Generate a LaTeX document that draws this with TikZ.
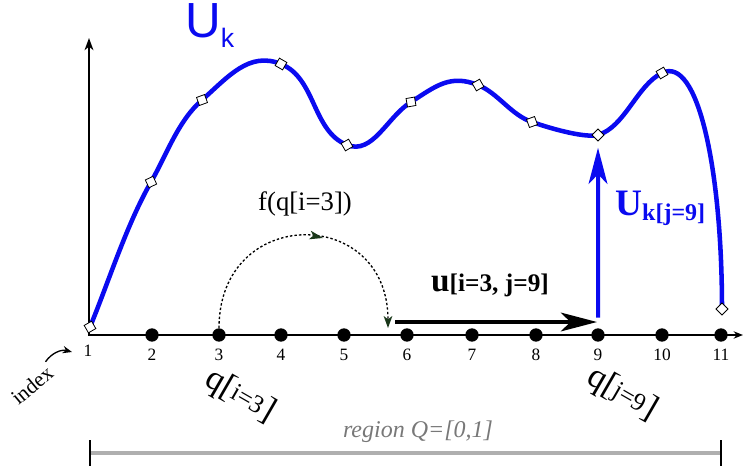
\documentclass[tikz,border=0pt]{standalone}
\usepackage{fontspec}
\setmainfont{Liberation Serif}
\newfontfamily\uksans{Liberation Sans}
\usepackage{xcolor}
\usepackage{tikz}
\usetikzlibrary{arrows.meta}
\usetikzlibrary{decorations.markings}

\definecolor{ukblue}{RGB}{10,10,240}
\definecolor{arcgreen}{RGB}{25,55,25}
\definecolor{bargray}{RGB}{175,175,175}
\definecolor{labelgray}{RGB}{120,120,120}

\tikzset{
  axis/.style={line width=2.2pt, black},
  dot/.style={circle, fill=black, inner sep=0pt, minimum size=10pt},
  knot/.style={draw=black, fill=white, line width=0.6pt, inner sep=0pt, minimum size=6.4pt, rotate=#1},
  knot/.default=45,
  idx/.style={font=\fontsize{13}{13}\selectfont, inner sep=0pt},
  ukcurve/.style={ukblue, line width=3.4pt},
  ukarrow/.style={ukblue, line width=3pt, shorten <=7.9pt, shorten >=4.6pt,
    -{Stealth[length=27pt, width=14pt, inset=7pt]}},
  uarrow/.style={black, line width=2.8pt, -{Stealth[length=27pt, width=14pt, inset=7pt]}},
  farc/.style={black, line width=1pt, dash pattern=on 1.8pt off 1.6pt,
    -{Stealth[arcgreen, length=9pt, width=6.5pt, inset=2.5pt]},
    decoration={markings, mark=at position 0.57 with {\arrow[arcgreen]{Stealth[length=10pt, width=6.5pt, inset=2.5pt]}}},
    postaction={decorate}},
  regionbar/.style={bargray, line width=2.3pt},
  regiontick/.style={black, line width=2.2pt}
}

\begin{document}
\begin{tikzpicture}[x=0.75pt, y=-0.75pt]
  \useasboundingbox (0,0) rectangle (743,469);

  % Achsen
  \coordinate (O) at (89,335);
  \coordinate (xend) at (743,335);
  \coordinate (yend) at (89,38);
  \draw[axis, {Stealth[length=9pt, width=6.5pt, inset=2.5pt]}-{Stealth[length=7pt, width=5.5pt]}] (yend) -- (O) -- (xend);

  % Indexpunkte
  \node[idx] (n1) at (88,351) {1};
  \foreach \i/\x in {2/152,3/219,4/281,5/344,6/407,7/472,8/536,9/598,10/662,11/721} {
    \node[dot] (p\i) at (\x,335) {};
    \node[idx] (n\i) at (\x,355) {\i};
  }

  % Kurve U_k
  \coordinate (c1) at (90,327);
  \coordinate (c2) at (151,182);
  \coordinate (c3) at (202,100);
  \coordinate (c4) at (281,64);
  \coordinate (c5) at (347,145);
  \coordinate (c6) at (411,102);
  \coordinate (c7) at (478,85);
  \coordinate (c8) at (532,122);
  \coordinate (c9) at (598,135);
  \coordinate (c10) at (662,73);
  \coordinate (c11) at (722,309);
  \draw[ukcurve] (c1) .. controls (109,281) and (126,226) .. (c2)
    .. controls (167,154) and (178,121) .. (c3)
    .. controls (228,77) and (249,51) .. (c4)
    .. controls (316,78) and (312,131) .. (c5)
    .. controls (373,155) and (387,117) .. (c6)
    .. controls (436,86) and (450,74) .. (c7)
    .. controls (498,93) and (511,115) .. (c8)
    .. controls (555,130) and (586,138) .. (c9)
    .. controls (625,127) and (637,85) .. (c10)
    .. controls (698,55) and (722,170) .. (c11);
  \foreach \i/\r in {1/30,2/25,3/20,4/-30,5/30,6/10,7/30,8/20,9/45,10/30,11/45}
    \node[knot=\r] (k\i) at (c\i) {};

  \node[anchor=base west, inner sep=0pt, text=ukblue] (uk) at (185,37)
    {\uksans\fontsize{37}{37}\selectfont U\raisebox{-7.5pt}{\fontsize{20}{20}\selectfont k}};

  % U_k[j=9]
  \draw[ukarrow] (p9) -- (k9);
  \node[anchor=base west, inner sep=0pt, text=ukblue, font=\bfseries] (ukj) at (615,215)
    {{\fontsize{28}{28}\selectfont U}\raisebox{-4pt}{\fontsize{18}{18}\selectfont k[j=9]}};

  % u[i=3, j=9]
  \coordinate (ua) at (395,322);
  \coordinate (ub) at (597,322);
  \draw[uarrow] (ua) -- (ub);
  \node[font=\bfseries, inner sep=0pt] (ul) at (490,285)
    {{\fontsize{25}{25}\selectfont u}{\fontsize{19}{19}\selectfont[i=3, j=9]}};

  % f(q[i=3])
  \coordinate (fend) at (388,328);
  \draw[farc] (p3.north) .. controls +(0,-123) and +(0,-123) .. (fend);
  \node[inner sep=0pt, font=\fontsize{20}{20}\selectfont] (fl) at (305,204) {f(q[i=3])};

  % index
  \node[inner sep=1pt, rotate=40, font=\fontsize{16}{16}\selectfont] (index) at (32,385) {index};
  \coordinate (iend) at (72,352);
  \draw[line width=1pt, -{Stealth[length=7pt, width=5.5pt]}] (index.north east) to[bend left=35] (iend);

  % q[i=3], q[j=9]
  \node[inner sep=0pt, rotate=-30] (qi) at (240,396)
    {\fontsize{26}{26}\selectfont q[\raisebox{1pt}{\fontsize{19}{19}\selectfont i=3}]};
  \node[inner sep=0pt, rotate=-30] (qj) at (622,394)
    {\fontsize{26}{26}\selectfont q[\raisebox{1pt}{\fontsize{19}{19}\selectfont j=9}]};

  % Region
  \coordinate (ra) at (90,453);
  \coordinate (rb) at (721,453);
  \draw[regionbar] (ra) -- (rb);
  \draw[regiontick] (ra) ++(0,-13) -- ++(0,26);
  \draw[regiontick] (rb) ++(0,-13) -- ++(0,26);
  \node[inner sep=0pt, text=labelgray, font=\itshape\fontsize{18}{18}\selectfont] (rl) at (418,432) {region Q=[0,1]};
\end{tikzpicture}
\end{document}
